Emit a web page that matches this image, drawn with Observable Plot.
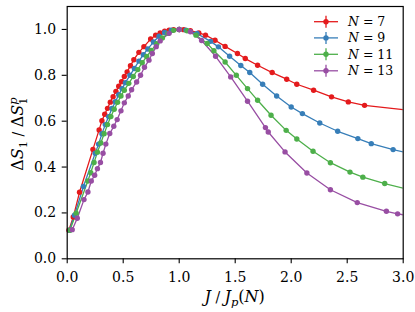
<!DOCTYPE html>
<html><head><meta charset="utf-8">
<script src="https://cdn.jsdelivr.net/npm/d3@7"></script>
<script src="https://cdn.jsdelivr.net/npm/@observablehq/plot@0.6"></script>
<style>
body{margin:0;background:#fff;}
#wrap{position:relative;width:415px;height:312px;overflow:hidden;}
#wrap svg.ov{position:absolute;left:0;top:0;pointer-events:none;}
</style></head><body><div id="wrap"></div>
<script>
const seriesNames = ["N = 7", "N = 9", "N = 11", "N = 13"];
const seriesNums = ["7", "9", "11", "13"];
const colors = ["#e41a1c", "#377eb8", "#4daf4a", "#984ea3"];

const xN7 = [0.015,0.054,0.11,0.23,0.285,0.31,0.335,0.36,0.385,0.41,0.435,0.46,0.485,0.51,0.535,0.565,0.595,0.64,0.685,0.745,0.79,0.83,0.87,0.91,0.95,1.0,1.04,1.10,1.175,1.235,1.32,1.41,1.52,1.59,1.70,1.83,1.96,2.05,2.20,2.36,2.51,2.655];
const yN7 = [0.125,0.182,0.29,0.477,0.562,0.602,0.630,0.656,0.683,0.707,0.730,0.752,0.772,0.795,0.815,0.842,0.868,0.900,0.925,0.958,0.975,0.985,0.992,0.997,0.999,1.0,0.999,0.995,0.985,0.975,0.953,0.926,0.895,0.873,0.844,0.812,0.783,0.761,0.735,0.706,0.684,0.669];

const xN9 = [0.02,0.065,0.145,0.25,0.28,0.31,0.34,0.37,0.40,0.43,0.46,0.49,0.52,0.56,0.60,0.64,0.68,0.72,0.77,0.82,0.87,0.93,1.0,1.06,1.16,1.28,1.35,1.45,1.55,1.63,1.745,1.87,2.0,2.10,2.255,2.415,2.595,2.715,2.91];
const yN9 = [0.125,0.19,0.315,0.46,0.50,0.545,0.585,0.62,0.655,0.685,0.715,0.742,0.768,0.80,0.83,0.862,0.89,0.915,0.945,0.97,0.987,0.997,1.0,0.997,0.982,0.948,0.924,0.883,0.843,0.812,0.761,0.71,0.662,0.633,0.592,0.556,0.524,0.502,0.476];

const xN11 = [0.025,0.08,0.184,0.21,0.24,0.27,0.30,0.33,0.36,0.39,0.42,0.45,0.48,0.51,0.55,0.59,0.63,0.67,0.71,0.75,0.80,0.85,0.90,0.95,1.0,1.07,1.15,1.25,1.31,1.41,1.51,1.61,1.70,1.82,1.955,2.05,2.195,2.35,2.525,2.64,2.835];
const yN11 = [0.125,0.199,0.339,0.375,0.42,0.465,0.505,0.545,0.585,0.62,0.652,0.682,0.71,0.735,0.765,0.795,0.825,0.855,0.882,0.908,0.938,0.963,0.983,0.996,1.0,0.994,0.975,0.939,0.907,0.858,0.80,0.742,0.691,0.626,0.56,0.522,0.469,0.419,0.378,0.356,0.328];

const xN13 = [0.045,0.09,0.15,0.185,0.215,0.245,0.27,0.297,0.32,0.345,0.38,0.416,0.446,0.48,0.51,0.545,0.575,0.62,0.655,0.69,0.73,0.76,0.795,0.83,0.91,1.0,1.10,1.2,1.325,1.46,1.61,1.77,1.795,1.945,2.14,2.35,2.59,2.85,2.95];
const yN13 = [0.127,0.177,0.258,0.291,0.339,0.364,0.393,0.42,0.46,0.50,0.546,0.578,0.607,0.645,0.68,0.71,0.737,0.771,0.80,0.835,0.866,0.895,0.925,0.95,0.983,1.0,0.99,0.952,0.883,0.793,0.687,0.572,0.553,0.466,0.374,0.301,0.245,0.207,0.196];

// where each line meets the right edge of the frame (no marker there)
const edgeX = 3.0;
const edgeY = [0.650, 0.466, 0.308, 0.192];

const xTicks = [0, 0.5, 1.0, 1.5, 2.0, 2.5, 3.0];
const yTicks = [0, 0.2, 0.4, 0.6, 0.8, 1.0];

const xs = [xN7, xN9, xN11, xN13];
const ys = [yN7, yN9, yN11, yN13];
const dotRows = [];
const lineRows = [];
seriesNames.forEach((s, i) => {
  xs[i].forEach((x, j) => {
    dotRows.push({x, y: ys[i][j], s});
    lineRows.push({x, y: ys[i][j], s});
  });
  lineRows.push({x: edgeX, y: edgeY[i], s});
});

const plot = Plot.plot({
  width: 415, height: 312,
  marginLeft: 66.7, marginRight: 12.3, marginTop: 6, marginBottom: 53.7,
  x: {domain: [0, 3]},
  y: {domain: [0, 1.1]},
  color: {domain: seriesNames, range: colors},
  style: {fontFamily: "DejaVu Serif", fontSize: "14px", background: "white", color: "black"},
  marks: [
    Plot.line(lineRows, {x: "x", y: "y", z: "s", stroke: "s", strokeWidth: 1.3, clip: true}),
    Plot.dot(dotRows, {x: "x", y: "y", fill: "s", r: 2.7}),
    Plot.axisX({ticks: xTicks, tickFormat: d3.format(".1f"), tickSize: 5, tickPadding: 8, label: null, fontSize: 14, strokeWidth: 1.1}),
    Plot.axisY({ticks: yTicks, tickFormat: d3.format(".1f"), tickSize: 5, tickPadding: 6, label: null, fontSize: 14, strokeWidth: 1.1}),
    Plot.frame({stroke: "black", strokeWidth: 1.2})
  ]
});
const wrap = document.getElementById("wrap");
wrap.appendChild(plot);

// overlay: axis labels and legend
const NS = "http://www.w3.org/2000/svg";
const ov = document.createElementNS(NS, "svg");
ov.setAttribute("class", "ov");
ov.setAttribute("width", 415); ov.setAttribute("height", 312);
wrap.appendChild(ov);
const font = "DejaVu Serif";

function txt(parent, attrs, parts) {
  const t = document.createElementNS(NS, "text");
  for (const k in attrs) t.setAttribute(k, attrs[k]);
  t.setAttribute("font-family", font);
  parts.forEach(p => {
    const ts = document.createElementNS(NS, "tspan");
    ts.textContent = p.t;
    if (p.i) ts.setAttribute("font-style", "italic");
    if (p.fs) ts.setAttribute("font-size", p.fs);
    if (p.dy) ts.setAttribute("dy", p.dy);
    if (p.dx) ts.setAttribute("dx", p.dx);
    ts.setAttribute("xml:space", "preserve");
    t.appendChild(ts);
  });
  parent.appendChild(t);
  return t;
}

const xmid = (66.7 + 402.7) / 2;
txt(ov, {x: xmid, y: 302, "text-anchor": "middle", "font-size": 16}, [
  {t: "J", i: 1}, {t: " / ", fs: 14}, {t: "J", i: 1}, {t: "p", i: 1, fs: 11.5, dy: 4}, {t: "(", dy: -4}, {t: "N", i: 1}, {t: ")"}
]);
txt(ov, {transform: "translate(23,134) rotate(-90)", "text-anchor": "middle", "font-size": 16}, [
  {t: "Δ"}, {t: "S", i: 1}, {t: "1", fs: 11.5, dy: 4}, {t: " / ", fs: 14, dy: -4}, {t: "Δ"}, {t: "S", i: 1},
  {t: "1", fs: 11.5, dy: 4}, {t: "p", i: 1, fs: 11.5, dy: -10.5, dx: -7.3}, {t: "", dy: 6.5}
]);

// legend
const legY = [21.7, 37.9, 54.3, 70.8];
seriesNames.forEach((s, i) => {
  const g = document.createElementNS(NS, "g");
  const y = legY[i];
  const l = document.createElementNS(NS, "line");
  l.setAttribute("x1", 314); l.setAttribute("x2", 338); l.setAttribute("y1", y); l.setAttribute("y2", y);
  l.setAttribute("stroke", colors[i]); l.setAttribute("stroke-width", 1.3);
  g.appendChild(l);
  const v = document.createElementNS(NS, "line");
  v.setAttribute("x1", 326); v.setAttribute("x2", 326); v.setAttribute("y1", y - 6); v.setAttribute("y2", y + 6);
  v.setAttribute("stroke", colors[i]); v.setAttribute("stroke-width", 1.3);
  g.appendChild(v);
  const c = document.createElementNS(NS, "circle");
  c.setAttribute("cx", 326); c.setAttribute("cy", y); c.setAttribute("r", 2.7); c.setAttribute("fill", colors[i]);
  g.appendChild(c);
  ov.appendChild(g);
  txt(ov, {x: 348, y: y + 4.5, "font-size": 12.5}, [{t: "N", i: 1}, {t: " = " + seriesNums[i]}]);
});
</script></body></html>
